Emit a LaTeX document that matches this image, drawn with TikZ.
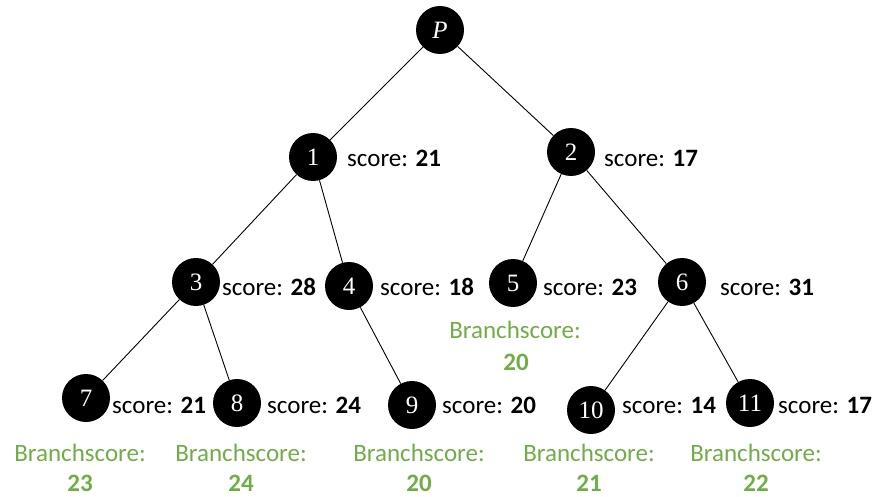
\documentclass[tikz,border=0pt]{standalone}
\usepackage{fontspec}
\setmainfont{Carlito}
\newfontfamily\numfont{Liberation Serif}
\definecolor{bsgreen}{RGB}{112,173,71}
\tikzset{
  vert/.style={circle, fill=black, minimum size=48pt, inner sep=0pt, text=white,
               font=\numfont\fontsize{25}{30}\selectfont},
  scorelbl/.style={anchor=base west, inner sep=0pt, font=\fontsize{25}{30}\selectfont},
  bslbl/.style={anchor=base, inner sep=0pt, text=bsgreen, font=\fontsize{25}{30}\selectfont},
  edge/.style={draw=black, line width=0.9pt}
}
\begin{document}
\begin{tikzpicture}[x=1pt, y=-1pt]
  \useasboundingbox (0,0) rectangle (874,497);

  % tree vertices
  \node[vert] (P)  at (440,30)  {\textit{P}};
  \node[vert] (n1) at (313,157) {1};
  \node[vert] (n2) at (571,152) {2};
  \node[vert] (n3) at (196,282) {3};
  \node[vert] (n4) at (349,286) {4};
  \node[vert] (n5) at (513,283) {5};
  \node[vert] (n6) at (682,282) {6};
  \node[vert] (n7) at (86,398)  {7};
  \node[vert] (n8) at (237,403) {8};
  \node[vert] (n9) at (412,405) {9};
  \node[vert] (n10) at (591,410) {10};
  \node[vert] (n11) at (750,403) {11};

  % edges
  \draw[edge] (P) -- (n1);
  \draw[edge] (P) -- (n2);
  \draw[edge] (n1) -- (n3);
  \draw[edge] (n1) -- (n4);
  \draw[edge] (n2) -- (n5);
  \draw[edge] (n2) -- (n6);
  \draw[edge] (n3) -- (n7);
  \draw[edge] (n3) -- (n8);
  \draw[edge] (n4) -- (n9);
  \draw[edge] (n6) -- (n10);
  \draw[edge] (n6) -- (n11);

  % scores
  \node[scorelbl] (s1)  at (347,166) {score: \textbf{21}};
  \node[scorelbl] (s2)  at (604,166) {score: \textbf{17}};
  \node[scorelbl] (s3)  at (222,295) {score: \textbf{28}};
  \node[scorelbl] (s4)  at (380,295) {score: \textbf{18}};
  \node[scorelbl] (s5)  at (543,295) {score: \textbf{23}};
  \node[scorelbl] (s6)  at (720,295) {score: \textbf{31}};
  \node[scorelbl] (s7)  at (112,413) {score: \textbf{21}};
  \node[scorelbl] (s8)  at (267,413) {score: \textbf{24}};
  \node[scorelbl] (s9)  at (442,413) {score: \textbf{20}};
  \node[scorelbl] (s10) at (622,413) {score: \textbf{14}};
  \node[scorelbl] (s11) at (778,413) {score: \textbf{17}};

  % branch scores
  \node[bslbl] (b5)  at (515,338) {Branchscore:};
  \node[bslbl] (b5v) at (516,370) {\textbf{20}};
  \node[bslbl] (b7)  at (80,461)  {Branchscore:};
  \node[bslbl] (b7v) at (80,491)  {\textbf{23}};
  \node[bslbl] (b8)  at (241,461) {Branchscore:};
  \node[bslbl] (b8v) at (241,491) {\textbf{24}};
  \node[bslbl] (b9)  at (419,461) {Branchscore:};
  \node[bslbl] (b9v) at (419,491) {\textbf{20}};
  \node[bslbl] (b10)  at (589,461) {Branchscore:};
  \node[bslbl] (b10v) at (589,491) {\textbf{21}};
  \node[bslbl] (b11)  at (756,461) {Branchscore:};
  \node[bslbl] (b11v) at (756,491) {\textbf{22}};
\end{tikzpicture}
\end{document}
